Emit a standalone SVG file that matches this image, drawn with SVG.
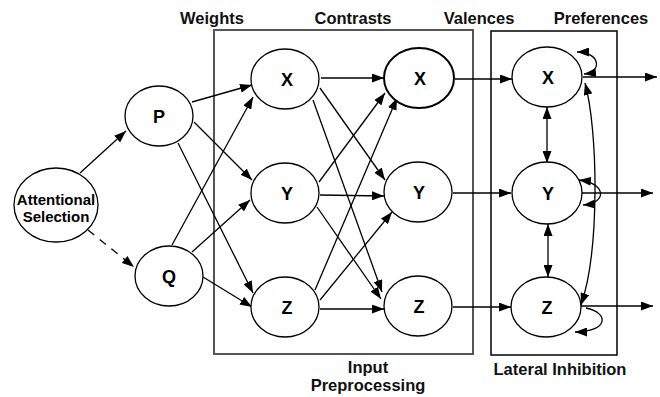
<svg xmlns="http://www.w3.org/2000/svg" width="660" height="397" viewBox="0 0 660 397">
  <style>
    .node { fill: #fff; stroke: #000; stroke-width: 1.3; }
    .bold { stroke-width: 2; }
    .lbl { font-family: "Liberation Sans", Arial, sans-serif; font-weight: bold; font-size: 18px; text-anchor: middle; fill: #000; }
    .small { font-size: 15px; }
    .title { font-family: "Liberation Sans", Arial, sans-serif; font-weight: bold; font-size: 16.5px; text-anchor: middle; fill: #111; }
    .edge { fill: none; stroke: #000; stroke-width: 1.3; marker-end: url(#arr); }
    .dash { stroke-dasharray: 8 7; }
    .both { marker-start: url(#arrS); }
    .box1 { fill: none; stroke: #555; stroke-width: 2; }
    .box2 { fill: none; stroke: #000; stroke-width: 1.5; }
  </style>
  <defs>
    <marker id="arr" markerUnits="userSpaceOnUse" markerWidth="13" markerHeight="9" refX="12" refY="4.5" orient="auto">
      <path d="M0,0 L12,4.5 L0,9 z" fill="#000"/>
    </marker>
    <marker id="arrS" markerUnits="userSpaceOnUse" markerWidth="13" markerHeight="9" refX="12" refY="4.5" orient="auto-start-reverse">
      <path d="M0,0 L12,4.5 L0,9 z" fill="#000"/>
    </marker>
  </defs>

  <!-- stage boxes -->
  <rect class="box1" x="214" y="30" width="259" height="324"/>
  <rect class="box2" x="491" y="31" width="126" height="324"/>

  <!-- column titles -->
  <text class="title" x="212" y="24">Weights</text>
  <text class="title" x="353" y="24">Contrasts</text>
  <text class="title" x="479" y="24">Valences</text>
  <text class="title" x="601" y="24">Preferences</text>
  <text class="title" x="368" y="373">Input</text>
  <text class="title" x="368" y="391">Preprocessing</text>
  <text class="title" x="560" y="375">Lateral Inhibition</text>

  <g id="connectors">
    <line class="edge" x1="80" y1="173" x2="126" y2="131"/>
    <line class="edge dash" x1="88" y1="230" x2="134" y2="267"/>

    <line class="edge" x1="192" y1="102" x2="252" y2="85"/>
    <line class="edge" x1="194" y1="122" x2="252" y2="180"/>
    <line class="edge" x1="178" y1="143" x2="253" y2="293"/>
    <line class="edge" x1="172" y1="245" x2="253" y2="97"/>
    <line class="edge" x1="192" y1="252" x2="250" y2="200"/>
    <line class="edge" x1="203" y1="277" x2="252" y2="307"/>

    <line class="edge" x1="321" y1="78" x2="384" y2="78"/>
    <line class="edge" x1="320" y1="88" x2="385" y2="180"/>
    <line class="edge" x1="313" y1="100" x2="382" y2="292"/>
    <line class="edge" x1="319" y1="182" x2="385" y2="93"/>
    <line class="edge" x1="320" y1="195" x2="384" y2="196"/>
    <line class="edge" x1="317" y1="207" x2="381" y2="299"/>
    <line class="edge" x1="315" y1="290" x2="397" y2="98"/>
    <line class="edge" x1="320" y1="300" x2="392" y2="212"/>
    <line class="edge" x1="320" y1="309" x2="384" y2="309"/>

    <line class="edge" x1="455" y1="79" x2="512" y2="79"/>
    <line class="edge" x1="453" y1="193" x2="511" y2="193"/>
    <line class="edge" x1="453" y1="307" x2="511" y2="307"/>

    <line class="edge" x1="583" y1="77" x2="657" y2="77"/>
    <line class="edge" x1="582" y1="193" x2="653" y2="193"/>
    <line class="edge" x1="581" y1="306" x2="653" y2="306"/>

    <line class="edge both" x1="547" y1="107" x2="547" y2="163"/>
    <line class="edge both" x1="548" y1="224" x2="548" y2="277"/>

    <path class="edge both" d="M585,83 C598,130 600,250 581,305"/>

    <path class="edge both" d="M577,52 C600,52 603,72 584,74"/>
    <path class="edge both" d="M579,180 C606,183 608,203 583,205"/>
    <path class="edge" d="M586,308 C610,313 608,332 575,332"/>
  </g>

  <g id="attentional">
    <ellipse class="node" cx="56" cy="205" rx="42" ry="37"/>
    <text class="lbl small" x="56" y="205">Attentional</text>
    <text class="lbl small" x="56" y="222">Selection</text>
  </g>
  <g id="P">
    <ellipse class="node" cx="159" cy="116" rx="34" ry="30"/>
    <text class="lbl" x="159" y="123">P</text>
  </g>
  <g id="Q">
    <ellipse class="node" cx="169" cy="276" rx="34" ry="30"/>
    <text class="lbl" x="169" y="283">Q</text>
  </g>

  <g id="w-X">
    <ellipse class="node" cx="285" cy="79" rx="34" ry="30"/>
    <text class="lbl" x="287" y="86">X</text>
  </g>
  <g id="w-Y">
    <ellipse class="node" cx="285" cy="193" rx="34" ry="30"/>
    <text class="lbl" x="287" y="200">Y</text>
  </g>
  <g id="w-Z">
    <ellipse class="node" cx="285" cy="307" rx="34" ry="30"/>
    <text class="lbl" x="287" y="314">Z</text>
  </g>

  <g id="c-X">
    <ellipse class="node bold" cx="419" cy="78" rx="35" ry="30"/>
    <text class="lbl" x="420" y="85">X</text>
  </g>
  <g id="c-Y">
    <ellipse class="node" cx="418" cy="192" rx="34" ry="30"/>
    <text class="lbl" x="419" y="199">Y</text>
  </g>
  <g id="c-Z">
    <ellipse class="node" cx="418" cy="306" rx="34" ry="30"/>
    <text class="lbl" x="419" y="313">Z</text>
  </g>

  <g id="p-X">
    <ellipse class="node" cx="547" cy="77" rx="35" ry="30"/>
    <text class="lbl" x="548" y="84">X</text>
  </g>
  <g id="p-Y">
    <ellipse class="node" cx="547" cy="193" rx="35" ry="31"/>
    <text class="lbl" x="548" y="200">Y</text>
  </g>
  <g id="p-Z">
    <ellipse class="node" cx="546" cy="307" rx="35" ry="30"/>
    <text class="lbl" x="547" y="314">Z</text>
  </g>
</svg>
